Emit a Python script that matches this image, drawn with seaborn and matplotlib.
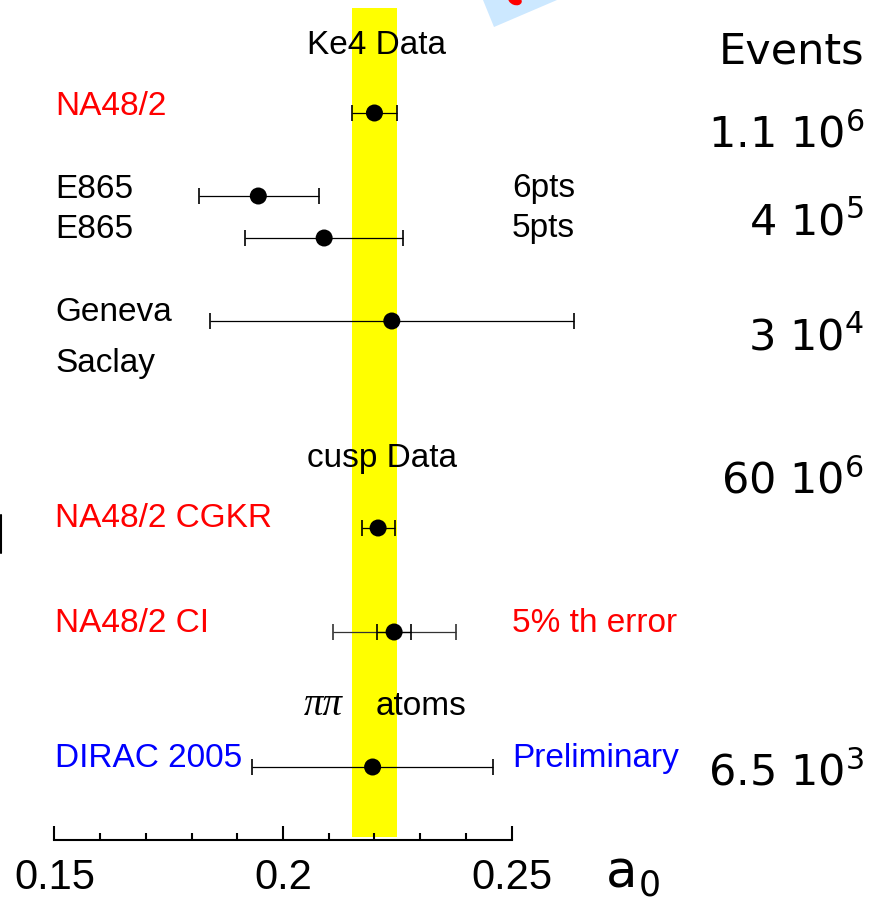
import numpy as np
import pandas as pd
import matplotlib
matplotlib.use("Agg")
import matplotlib.pyplot as plt
import seaborn as sns
from matplotlib.patches import Polygon, Ellipse
from matplotlib.lines import Line2D

# ---------------- data ----------------
experiments = ["NA48/2", "E865 6pts", "E865 5pts", "Geneva Saclay",
               "NA48/2 CGKR", "NA48/2 CI", "DIRAC 2005"]
a0_central = [0.2200, 0.1946, 0.2090, 0.2238, 0.2208, 0.2243, 0.2196]
a0_low = [0.2152, 0.1817, 0.1916, 0.1841, 0.2173, 0.2206, 0.1932]
a0_high = [0.2249, 0.2078, 0.2263, 0.2636, 0.2246, 0.2281, 0.2460]
ci_th_low = [0.2109]
ci_th_high = [0.2378]
band = [0.215, 0.225]
xticks = [0.15, 0.2, 0.25]
xtick_labels = ["0.15", "0.2", "0.25"]
minor_ticks = [0.16, 0.17, 0.18, 0.19, 0.21, 0.22, 0.23, 0.24]
events_labels = ["Events", "1.1 10$^{6}$", "4 10$^{5}$", "3 10$^{4}$",
                 "60 10$^{6}$", "6.5 10$^{3}$"]

# layout (row positions in pixel-like units from the top)
row_y = [113, 196, 238, 321, 528, 632, 767]

W, H = 871, 906
sns.set_theme(style="white")
plt.rcParams["font.family"] = ["Liberation Sans", "DejaVu Sans"]
plt.rcParams["mathtext.fontset"] = "dejavusans"
plt.rcParams["text.color"] = "black"
plt.rcParams["xtick.color"] = "black"

fig = plt.figure(figsize=(W / 100, H / 100), dpi=100)
ax = fig.add_axes([0, 0, 1, 1])
ax.set_facecolor("white")
scale = 4572.0  # pixels per unit of a0
ax.set_xlim(0.15 - 54.4 / scale, 0.15 + (W - 54.4) / scale)
ax.set_ylim(H, 0)

# yellow band
ax.fill_betweenx([8, 837], band[0], band[1], color="#FFFF00", lw=0, zorder=0)

c = np.array(a0_central)
lo = np.array(a0_low)
hi = np.array(a0_high)
ax.errorbar(c, row_y, xerr=[c - lo, hi - c], fmt="none", ecolor="black",
            elinewidth=0.9, capsize=6, capthick=1.2, zorder=3)
# theory error on CI point
ax.errorbar([a0_central[5]], [row_y[5]],
            xerr=[[a0_central[5] - ci_th_low[0]], [ci_th_high[0] - a0_central[5]]],
            fmt="none", ecolor="#333333", elinewidth=0.9, capsize=6,
            capthick=1.2, zorder=2)

df = pd.DataFrame({"experiment": experiments, "a0": a0_central, "row": row_y})
sns.scatterplot(data=df, x="a0", y="row", s=150, color="black",
                edgecolor="none", linewidth=0, zorder=5, ax=ax, legend=False)

# axis styling
for s in ["left", "right", "top"]:
    ax.spines[s].set_visible(False)
ax.spines["bottom"].set_position(("data", 840))
ax.spines["bottom"].set_bounds(0.15, 0.25)
ax.spines["bottom"].set_linewidth(1.5)
ax.spines["bottom"].set_color("black")
ax.set_yticks([])
ax.set_xticks(xticks)
ax.set_xticklabels(xtick_labels)
ax.set_xticks(minor_ticks, minor=True)
ax.tick_params(axis="x", which="major", direction="in", length=10, width=1.5,
               pad=13, labelsize=30, colors="black", bottom=True)
ax.tick_params(axis="x", which="minor", direction="in", length=5, width=1.5,
               bottom=True, colors="black")
ax.set_xlabel("")
ax.set_ylabel("")
ax.grid(False)


def t(x, y, s, **kw):
    fig.text(x / W, 1 - y / H, s, va="baseline", **kw)


fs = 24
t(307, 54, "Ke4 Data", fontsize=fs)
t(55, 115, "NA48/2", fontsize=fs, color="red")
t(55, 198, "E865", fontsize=fs)
t(55, 238, "E865", fontsize=fs)
t(512, 197, "6pts", fontsize=fs)
t(512, 237, "5pts", fontsize=fs)
t(55, 321, "Geneva", fontsize=fs)
t(55, 372, "Saclay", fontsize=fs)
t(307, 467, "cusp Data", fontsize=fs)
t(55, 527, "NA48/2 CGKR", fontsize=fs, color="red")
t(55, 632, "NA48/2 CI", fontsize=fs, color="red")
t(512, 632, "5% th error", fontsize=fs, color="red")
t(304, 715, "\u03c0\u03c0", fontsize=28, family="Liberation Serif", style="italic")
t(376, 715, "atoms", fontsize=fs)
t(55, 767, "DIRAC 2005", fontsize=fs, color="blue")
t(512, 767, "Preliminary", fontsize=fs, color="blue")

# events column
ev_base = [63, 147, 235, 350, 493, 785]
for lab, yb in zip(events_labels, ev_base):
    t(864, yb, lab, fontsize=31, ha="right", family="DejaVu Sans")

# axis label a0
t(606, 888, "a", fontsize=37, family="DejaVu Sans")
t(639, 896, "0", fontsize=25, family="DejaVu Sans")

# slide decorations
fig.patches.append(Polygon([(483 / W, 1.0), (494 / W, 1 - 27 / H), (557 / W, 1.0)],
                           closed=True, transform=fig.transFigure,
                           facecolor="#CCE8FF", edgecolor="none", zorder=1))
fig.patches.append(Ellipse((515 / W, 1.0), 14 / W, 10 / H, angle=-20,
                           transform=fig.transFigure, facecolor="red",
                           edgecolor="none", zorder=2))
fig.lines.append(Line2D([1.2 / W, 1.2 / W], [1 - 515 / H, 1 - 553 / H],
                        transform=fig.transFigure, color="black", lw=1.5))

fig.savefig("out.png", dpi=100)
